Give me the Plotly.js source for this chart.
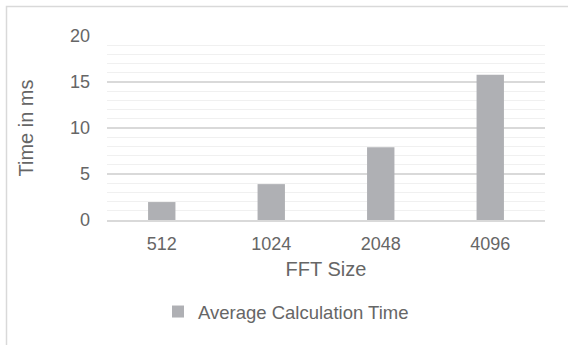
<!DOCTYPE html>
<html>
<head>
<meta charset="utf-8">
<script src="https://cdn.plot.ly/plotly-3.0.1.min.js"></script>
<style>
  html, body { margin: 0; padding: 0; background: #fff; }
  #chart { width: 568px; height: 345px; }
</style>
</head>
<body>
<div id="chart"></div>
<script>
// FFT sizes and their average calculation time (ms)
const fftSizes = ["512", "1024", "2048", "4096"];
const avgTimeMs = [1.95, 3.9, 7.9, 15.8];
const seriesName = "Average Calculation Time";
const yTickValues = [0, 5, 10, 15, 20];

const W = 568, H = 345;
const margin = { l: 107, r: 23, t: 36, b: 125, pad: 0 };
const plotW = W - margin.l - margin.r;
const plotH = H - margin.t - margin.b;

const textColor = "#666666";
const fontFamily = "Arial, 'Liberation Sans', sans-serif";

const trace = {
  type: "bar",
  x: fftSizes,
  y: avgTimeMs,
  name: seriesName,
  marker: { color: "#AFB0B4", line: { width: 0 } },
  showlegend: true,
  hoverinfo: "x+y"
};

const layout = {
  width: W,
  height: H,
  margin: margin,
  paper_bgcolor: "#ffffff",
  plot_bgcolor: "#ffffff",
  font: { family: fontFamily, color: textColor, size: 18 },
  bargap: 0.75,
  showlegend: true,
  legend: {
    orientation: "h",
    x: (158 - margin.l) / plotW, xanchor: "left",
    y: (220 - 312) / plotH, yanchor: "middle",
    font: { size: 18.5, color: textColor },
    itemwidth: 30
  },
  xaxis: {
    type: "category",
    showgrid: false,
    showline: true,
    linecolor: "#D9D9D9",
    linewidth: 1.5,
    ticks: "",
    ticklabelstandoff: 7,
    tickfont: { size: 18, color: textColor },
    title: { text: "FFT Size", font: { size: 20, color: textColor }, standoff: 9 },
    fixedrange: true
  },
  yaxis: {
    range: [0, 20],
    tickvals: yTickValues,
    showgrid: true,
    gridcolor: "#D9D9D9",
    gridwidth: 1.5,
    zeroline: false,
    ticks: "",
    ticklabelstandoff: 16,
    tickfont: { size: 18, color: textColor },
    minor: { dtick: 1, showgrid: true, gridcolor: "#F0F0F0", gridwidth: 1.2, ticks: "" },
    title: { text: "Time in ms", font: { size: 20, color: textColor }, standoff: 30 },
    fixedrange: true
  },
  shapes: [{
    // outer chart frame (left and top edges visible)
    type: "rect",
    xref: "paper", yref: "paper",
    x0: (6.5 - margin.l) / plotW,
    x1: (W + 10 - margin.l) / plotW,
    y0: -(H + 10 - margin.t - plotH) / plotH,
    y1: (margin.t - 6.5) / plotH + 1,
    line: { color: "#D9D9D9", width: 1.5 },
    layer: "below"
  }]
};

Plotly.newPlot("chart", [trace], layout, { displayModeBar: false, staticPlot: true });
</script>
</body>
</html>
